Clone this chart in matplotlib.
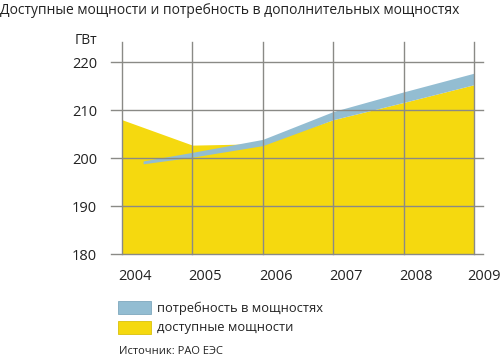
import matplotlib.pyplot as plt
from matplotlib.patches import Rectangle
from matplotlib.transforms import ScaledTranslation

plt.rcParams['font.family'] = ['Open Sans', 'DejaVu Sans']

years = [2004, 2005, 2006, 2007, 2008, 2009]
year_labels = ['2004', '2005', '2006', '2007', '2008', '2009']
available = [208.0, 202.7, 203.0, 208.0, 211.6, 215.3]

# demand band (lower / upper edge)
demand_x = [2004.3, 2005, 2006, 2007, 2008, 2009]
demand_lo = [198.8, 200.2, 202.6, 208.0, 211.6, 215.3]
demand_hi = [199.4, 201.2, 203.9, 209.7, 213.8, 217.7]

yticks = [180, 190, 200, 210, 220]

YELLOW = '#f5d90f'
BLUE = '#93bdd2'
GRID = '#8a8a86'
TEXT = '#222222'

fig = plt.figure(figsize=(5, 3.56), dpi=100)
ax = fig.add_axes([0.244, 0.2865, 0.704, 0.5955])
ax.set_xlim(2004, 2009)
ax.set_ylim(180, 224.2)

ax.fill_between(years, 180, available, color=YELLOW, lw=0, zorder=1)
ax.fill_between(demand_x, demand_lo, demand_hi, color=BLUE, lw=0, zorder=2)

for y in yticks:
    ax.plot([2003.84, 2009.13], [y, y], color=GRID, lw=1, clip_on=False, zorder=3)
for x in years:
    ax.plot([x, x], [180, 224.2], color=GRID, lw=1, clip_on=False, zorder=3)

for s in ax.spines.values():
    s.set_visible(False)
ax.set_xticks(years)
ax.set_xticklabels(year_labels, ha='left')
ax.set_yticks(yticks)
ax.tick_params(length=0, labelsize=10.5, colors=TEXT)
ax.tick_params(axis='y', pad=18)
ax.tick_params(axis='x', pad=11)
labels = ax.get_xticklabels()
for i, lbl in enumerate(labels):
    dx = -4 if i < len(labels) - 1 else -7
    lbl.set_transform(lbl.get_transform() + ScaledTranslation(dx / 100, 0, fig.dpi_scale_trans))

fig.text(0.0, 0.97, 'Доступные мощности и потребность в дополнительных мощностях',
         fontsize=10, ha='left', va='center', color=TEXT)
fig.text(0.194, 1 - 40 / 356, 'ГВт', fontsize=10, ha='right', va='center', color=TEXT)

# legend
fig.patches.append(Rectangle((0.236, 1 - 314 / 356), 0.066, 13 / 356,
                             transform=fig.transFigure, facecolor=BLUE,
                             edgecolor='#7fa8bd', lw=0.6))
fig.patches.append(Rectangle((0.236, 1 - 334 / 356), 0.066, 13 / 356,
                             transform=fig.transFigure, facecolor=YELLOW,
                             edgecolor='#d9c00c', lw=0.6))
fig.text(0.314, 1 - 308 / 356, 'потребность в мощностях', fontsize=9.3,
         va='center', color=TEXT)
fig.text(0.314, 1 - 328 / 356, 'доступные мощности', fontsize=9.3,
         va='center', color=TEXT)
fig.text(0.238, 1 - 352 / 356, 'Источник: РАО ЕЭС', fontsize=8,
         va='center', color=TEXT)

fig.savefig('out.png', dpi=100)
